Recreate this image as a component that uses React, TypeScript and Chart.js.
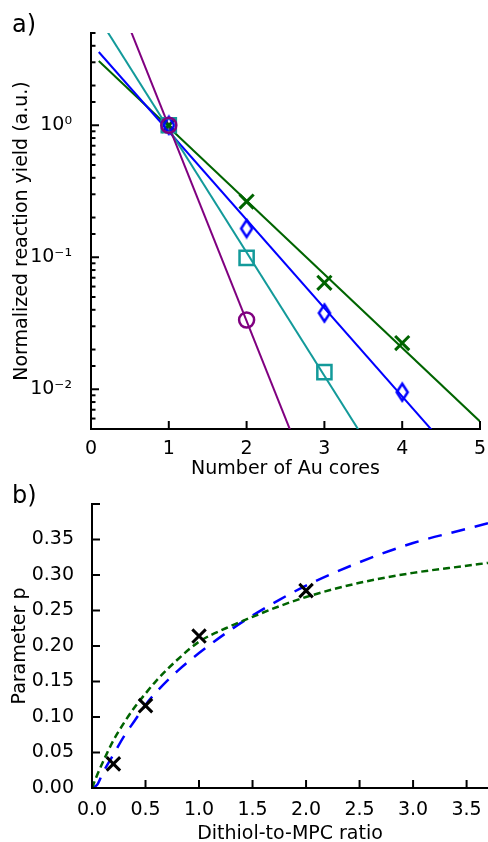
import React, { useEffect, useRef } from 'react';
import { Chart, registerables } from 'chart.js';

Chart.register(...registerables);

// ---- Panel a) data ----
const coresX = [1, 2, 3, 4];
const yieldGreen = [1, 0.264, 0.064, 0.0224];
const yieldBlue = [1, 0.165, 0.0378, 0.0095];
const yieldTeal = [1, 0.099, 0.0135];
const yieldPurple = [1, 0.0335];

const fitGreenX = [0.1, 5];
const fitGreenY = [3.07, 0.0057];
const fitBlueX = [0.1, 4.6];
const fitBlueY = [3.59, 0.0035];
const fitTealX = [0.1, 4.0];
const fitTealY = [6.5, 0.00147];
const fitPurpleX = [0.1, 3.0];
const fitPurpleY = [21, 0.0011];

const xTicksA = [0, 1, 2, 3, 4, 5];

// ---- Panel b) data ----
const ratioX = [0.2, 0.5, 1.0, 2.0];
const paramP = [0.034, 0.116, 0.214, 0.278];

const curveX = [0, 0.05, 0.1, 0.2, 0.3, 0.4, 0.5, 0.6, 0.8, 1.0, 1.25, 1.5, 1.75, 2.0, 2.5, 3.0, 3.5, 3.7];
const blueCurve = [0, 0.005, 0.021, 0.047, 0.073, 0.095, 0.117, 0.135, 0.165, 0.19, 0.218, 0.243, 0.265, 0.285, 0.318, 0.345, 0.365, 0.373];
const greenCurve = [0, 0.019, 0.036, 0.067, 0.092, 0.114, 0.133, 0.151, 0.181, 0.206, 0.225, 0.241, 0.256, 0.269, 0.289, 0.303, 0.313, 0.317];

const FONT = "'DejaVu Sans', sans-serif";
const GREEN = '#006400';
const BLUE = '#0000ff';
const TEAL = '#139a9a';
const PURPLE = '#800080';

const pts = (xs: number[], ys: number[]) => xs.map((x, i) => ({ x, y: ys[i] }));

const supMap: Record<string, string> = {
  '-': '\u207B', '0': '\u2070', '1': '\u00B9', '2': '\u00B2', '3': '\u00B3',
  '4': '\u2074', '5': '\u2075', '6': '\u2076', '7': '\u2077', '8': '\u2078', '9': '\u2079',
};
const isPow10 = (v: number) => {
  const l = Math.log10(v);
  return Math.abs(l - Math.round(l)) < 1e-6;
};
const powLabel = (v: number) => {
  const e = Math.round(Math.log10(v));
  return '10' + String(e).split('').map((c) => supMap[c]).join('');
};

function makeThinDiamond(color: string, w: number, h: number, lw: number) {
  const c = document.createElement('canvas');
  c.width = Math.ceil(w + lw * 2);
  c.height = Math.ceil(h + lw * 2);
  const g = c.getContext('2d')!;
  g.strokeStyle = color;
  g.lineWidth = lw;
  const cx = c.width / 2;
  const cy = c.height / 2;
  g.beginPath();
  g.moveTo(cx, cy - h / 2);
  g.lineTo(cx + w / 2, cy);
  g.lineTo(cx, cy + h / 2);
  g.lineTo(cx - w / 2, cy);
  g.closePath();
  g.stroke();
  return c;
}

const inwardTicks = {
  id: 'inwardTicks',
  afterDraw(chart: any) {
    const ctx = chart.ctx;
    const { left, bottom } = chart.chartArea;
    ctx.save();
    ctx.strokeStyle = '#000';
    ctx.lineWidth = 2;
    const xs = chart.scales.x;
    const ys = chart.scales.y;
    const isLog = ys.type === 'logarithmic';
    xs.ticks.forEach((t: any) => {
      const px = xs.getPixelForValue(t.value);
      ctx.beginPath();
      ctx.moveTo(px, bottom);
      ctx.lineTo(px, bottom - 8);
      ctx.stroke();
    });
    ys.ticks.forEach((t: any) => {
      const py = ys.getPixelForValue(t.value);
      const len = isLog && !isPow10(t.value) ? 4.5 : 8;
      ctx.beginPath();
      ctx.moveTo(left, py);
      ctx.lineTo(left + len, py);
      ctx.stroke();
    });
    ctx.restore();
  },
};

export default function App() {
  const topRef = useRef<HTMLCanvasElement>(null);
  const botRef = useRef<HTMLCanvasElement>(null);

  useEffect(() => {
    Chart.defaults.font.family = FONT;
    Chart.defaults.font.size = 19;
    Chart.defaults.color = '#000';

    const diamond = makeThinDiamond(BLUE, 11, 17, 2.5);

    const fitLine = (xs: number[], ys: number[], color: string) => ({
      data: pts(xs, ys),
      showLine: true,
      borderColor: color,
      borderWidth: 2,
      pointRadius: 0,
      fill: false,
    });

    const chartA = new Chart(topRef.current!, {
      type: 'scatter',
      data: {
        datasets: [
          {
            data: pts(coresX.slice(0, yieldPurple.length), yieldPurple),
            pointStyle: 'circle',
            pointRadius: 7.5,
            borderColor: PURPLE,
            backgroundColor: 'rgba(0,0,0,0)',
            pointBorderWidth: 2.5,
          } as any,
          {
            data: pts(coresX.slice(0, yieldTeal.length), yieldTeal),
            pointStyle: 'rect',
            pointRadius: 10,
            borderColor: TEAL,
            backgroundColor: 'rgba(0,0,0,0)',
            pointBorderWidth: 2.5,
          },
          {
            data: pts(coresX, yieldBlue),
            pointStyle: diamond,
            pointRadius: 9,
            borderColor: BLUE,
            backgroundColor: 'rgba(0,0,0,0)',
          },
          {
            data: pts(coresX, yieldGreen),
            pointStyle: 'crossRot',
            pointRadius: 10,
            borderColor: GREEN,
            pointBorderWidth: 3,
          },
          fitLine(fitPurpleX, fitPurpleY, PURPLE),
          fitLine(fitTealX, fitTealY, TEAL),
          fitLine(fitBlueX, fitBlueY, BLUE),
          fitLine(fitGreenX, fitGreenY, GREEN),
        ] as any,
      },
      options: {
        responsive: false,
        animation: false,
        devicePixelRatio: 1,
        layout: { autoPadding: false, padding: { top: 33, right: 8, left: 0, bottom: 0 } },
        plugins: { legend: { display: false }, tooltip: { enabled: false } },
        scales: {
          x: {
            type: 'linear',
            min: 0,
            max: 5,
            afterBuildTicks: (s: any) => {
              s.ticks = xTicksA.map((v) => ({ value: v }));
            },
            ticks: { padding: 1, callback: (v: any) => String(v) },
            grid: { display: false },
            border: { display: true, color: '#000', width: 2 },
            title: { display: true, text: 'Number of Au cores', padding: { top: 0, bottom: 0 } },
            afterFit: (s: any) => {
              s.height = 51;
              s.paddingRight = 0;
              s.paddingLeft = 0;
            },
          },
          y: {
            type: 'logarithmic',
            min: 0.005,
            max: 5,
            ticks: {
              autoSkip: false,
              padding: 11,
              callback: (v: any) => (isPow10(Number(v)) ? powLabel(Number(v)) : ''),
            },
            grid: { display: false },
            border: { display: true, color: '#000', width: 2 },
            title: {
              display: true,
              text: 'Normalized reaction yield (a.u.)',
              padding: { top: 11, bottom: 0 },
            },
            afterFit: (s: any) => {
              s.width = 91;
              s.paddingTop = 0;
              s.paddingBottom = 0;
            },
          },
        },
      } as any,
      plugins: [inwardTicks],
    });

    const chartB = new Chart(botRef.current!, {
      type: 'scatter',
      data: {
        datasets: [
          {
            data: pts(ratioX, paramP),
            pointStyle: 'crossRot',
            pointRadius: 9.5,
            borderColor: '#000',
            pointBorderWidth: 3,
          },
          {
            data: pts(curveX, greenCurve),
            showLine: true,
            borderColor: GREEN,
            borderWidth: 2.5,
            borderDash: [7, 4],
            pointRadius: 0,
            cubicInterpolationMode: 'monotone',
          },
          {
            data: pts(curveX, blueCurve),
            showLine: true,
            borderColor: BLUE,
            borderWidth: 2.5,
            borderDash: [14, 10],
            pointRadius: 0,
            cubicInterpolationMode: 'monotone',
          },
        ] as any,
      },
      options: {
        responsive: false,
        animation: false,
        devicePixelRatio: 1,
        layout: { autoPadding: false, padding: { top: 24, right: 0, left: 0, bottom: 0 } },
        plugins: { legend: { display: false }, tooltip: { enabled: false } },
        scales: {
          x: {
            type: 'linear',
            min: 0,
            max: 3.7,
            ticks: { stepSize: 0.5, includeBounds: false, padding: 3, callback: (v: any) => Number(v).toFixed(1) },
            grid: { display: false },
            border: { display: true, color: '#000', width: 2 },
            title: { display: true, text: 'Dithiol-to-MPC ratio', padding: { top: 0, bottom: -3 } },
            afterFit: (s: any) => {
              s.height = 54;
              s.paddingRight = 0;
              s.paddingLeft = 0;
            },
          },
          y: {
            type: 'linear',
            min: 0,
            max: 0.4,
            ticks: {
              stepSize: 0.05,
              padding: 10,
              callback: (v: any) => (Number(v) > 0.375 ? '' : Number(v).toFixed(2)),
            },
            grid: { display: false },
            border: { display: true, color: '#000', width: 2 },
            title: { display: true, text: 'Parameter p', padding: { top: 9, bottom: 0 } },
            afterFit: (s: any) => {
              s.width = 92;
              s.paddingTop = 0;
              s.paddingBottom = 0;
            },
          },
        },
      } as any,
      plugins: [inwardTicks],
    });

    return () => {
      chartA.destroy();
      chartB.destroy();
    };
  }, []);

  const labelStyle: React.CSSProperties = {
    position: 'absolute',
    left: 12,
    fontFamily: FONT,
    fontSize: 24,
    lineHeight: '24px',
    color: '#000',
  };

  return (
    <div style={{ position: 'absolute', left: 0, top: 0, width: 488, height: 842, background: '#fff', overflow: 'hidden' }}>
      <canvas ref={topRef} width={488} height={480} style={{ position: 'absolute', left: 0, top: 0 }} />
      <canvas ref={botRef} width={488} height={362} style={{ position: 'absolute', left: 0, top: 480 }} />
      <div style={{ ...labelStyle, top: 12 }}>a)</div>
      <div style={{ ...labelStyle, top: 483 }}>b)</div>
    </div>
  );
}
